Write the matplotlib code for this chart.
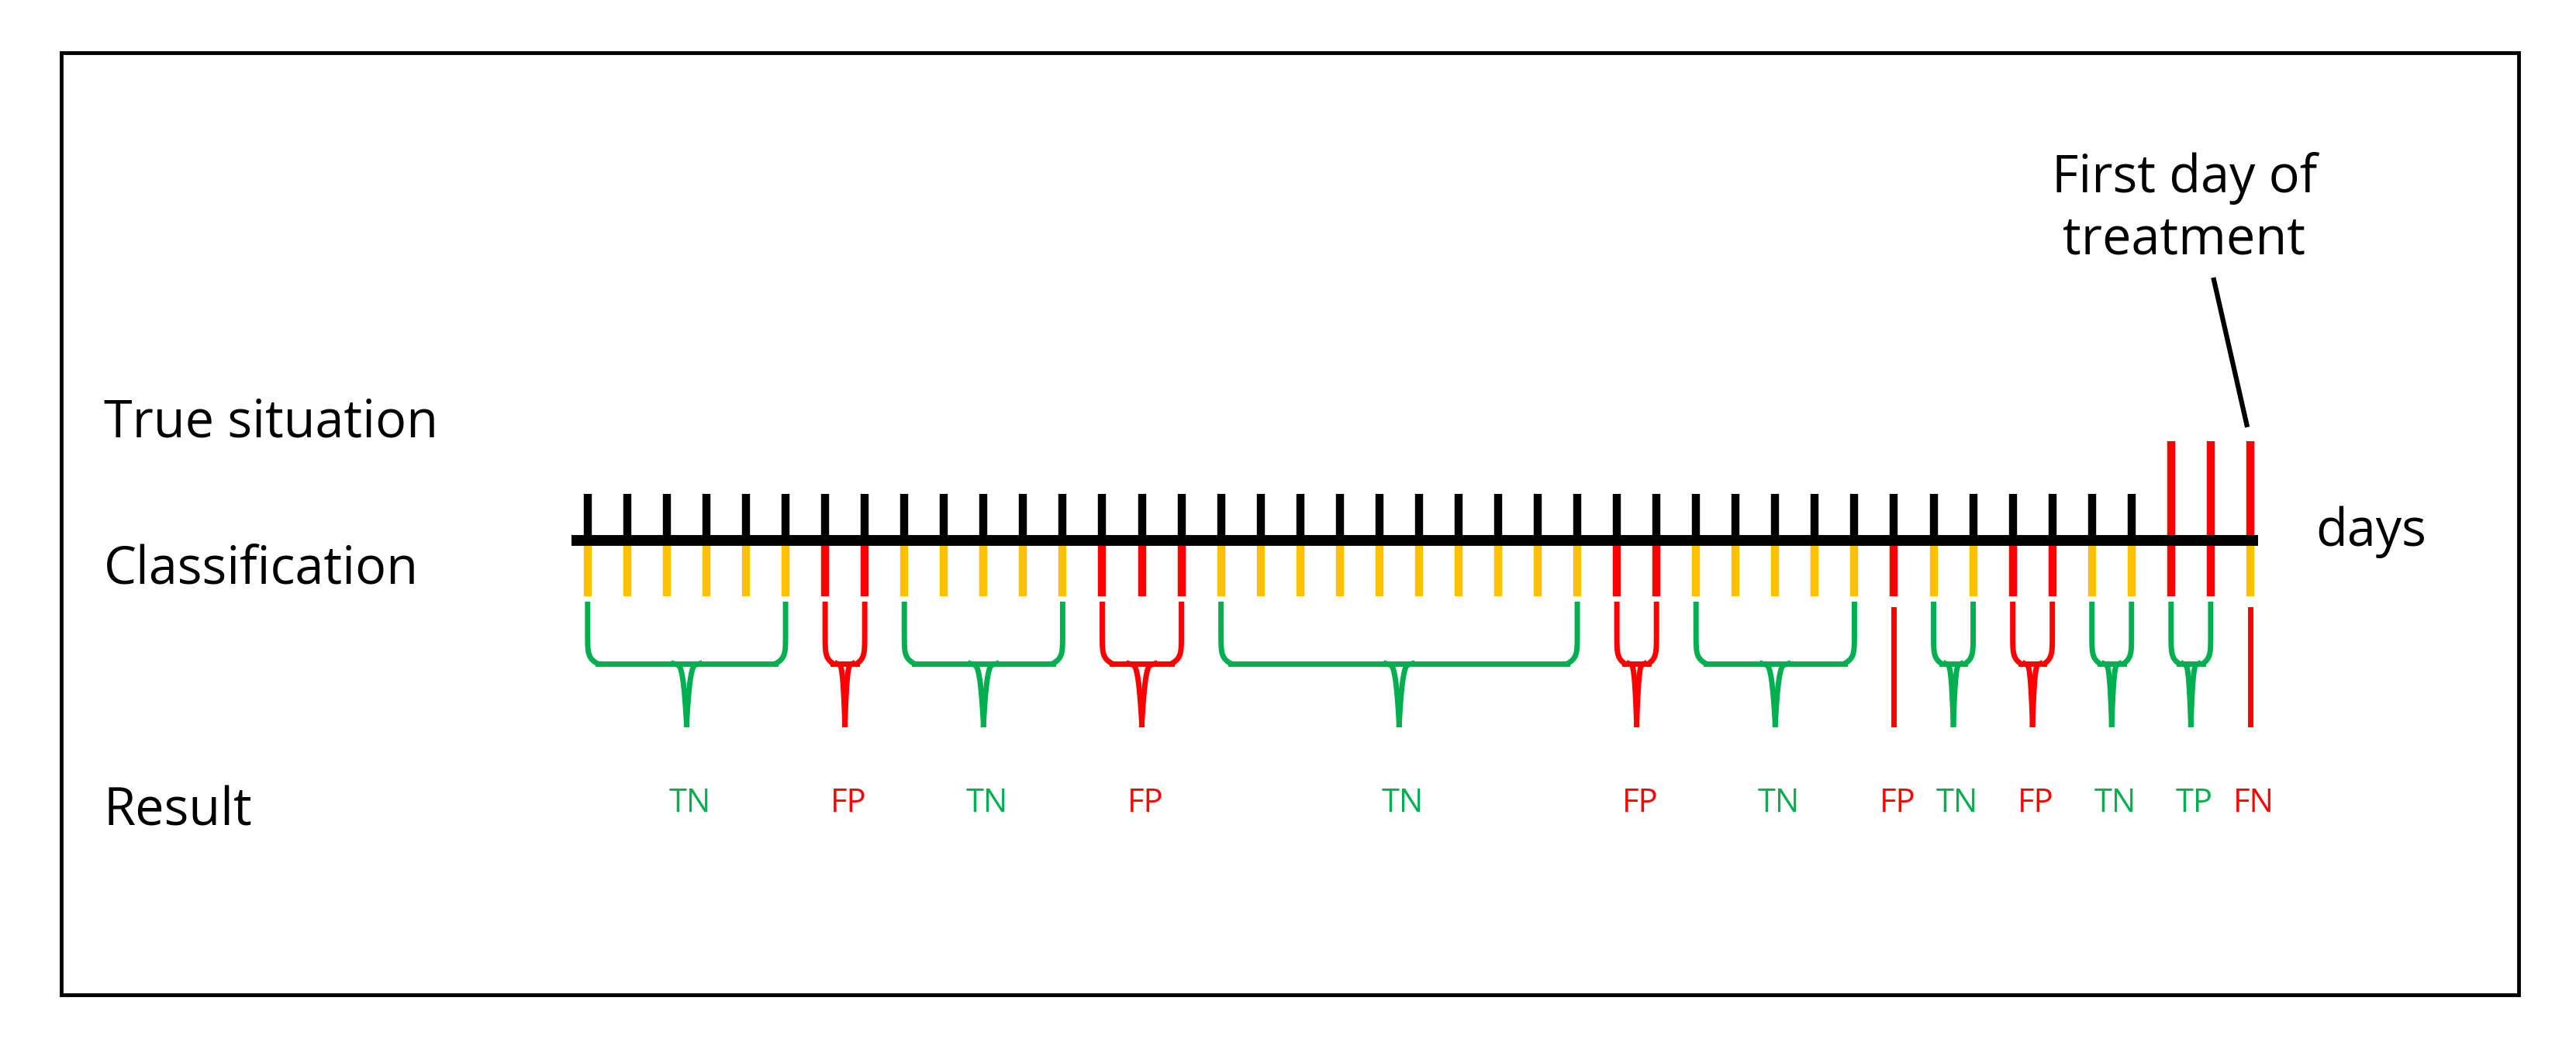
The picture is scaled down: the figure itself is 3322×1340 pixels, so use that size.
import numpy as np
import matplotlib.pyplot as plt
from matplotlib.patches import Rectangle

# ================= DATA =================
# per day: true situation (0 = healthy, 1 = sick), classification (0 = no alarm, 1 = alarm)
truth = [0] * 40 + [1] * 3
classif = ([0] * 6 + [1] * 2 + [0] * 5 + [1] * 3 + [0] * 10 + [1] * 2
           + [0] * 5 + [1] + [0] * 2 + [1] * 2 + [0] * 2 + [1] * 2 + [0])
# result groups: (label, first day, last day)
groups = [("TN", 0, 5), ("FP", 6, 7), ("TN", 8, 12), ("FP", 13, 15),
          ("TN", 16, 25), ("FP", 26, 27), ("TN", 28, 32), ("FP", 33, 33),
          ("TN", 34, 35), ("FP", 36, 37), ("TN", 38, 39), ("TP", 40, 41),
          ("FN", 42, 42)]

RED = "#ff0000"
YELLOW = "#ffc000"
GREEN = "#00b050"
BLACK = "#000000"
label_col = {"TN": GREEN, "TP": GREEN, "FP": RED, "FN": RED}

# ================= LAYOUT (in reference display pixels) =================
X0, STEP = 357, 24.05
AXIS_Y = 328

def dx(i):
    return X0 + i * STEP

plt.rcParams["font.family"] = ["Open Sans", "DejaVu Sans"]
fig = plt.figure(figsize=(33.22, 13.40), dpi=100)
ax = fig.add_axes([0, 0, 1, 1])
ax.set_xlim(0, 1565)
ax.set_ylim(631, 0)
ax.axis("off")

ax.add_patch(Rectangle((37, 32), 1493, 572, fill=False, lw=3.5, ec=BLACK))

# axis line
ax.plot([347, 1372], [AXIS_Y, AXIS_Y], color=BLACK, lw=10, solid_capstyle="butt", zorder=3)

# true situation ticks
for i, t in enumerate(truth):
    if t:
        ax.plot([dx(i), dx(i)], [268, AXIS_Y], color=RED, lw=7.5, solid_capstyle="butt")
    else:
        ax.plot([dx(i), dx(i)], [300, AXIS_Y], color=BLACK, lw=7.5, solid_capstyle="butt")

# classification ticks
for i, c in enumerate(classif):
    col = RED if c else YELLOW
    ax.plot([dx(i), dx(i)], [AXIS_Y, 362], color=col, lw=7.5, solid_capstyle="butt", zorder=2)

# ================= BRACES =================
def brace(x1, x2, col, top=367, mid=403, tip=440):
    xc = (x1 + x2) / 2
    t = np.linspace(0, 1, 40)
    r = min(6, (x2 - x1) / 5)
    lx = x1 + r * t ** 4
    ly = top + (mid - top) * t ** 0.35
    ax.plot(lx, ly, color=col, lw=5)
    ax.plot(x2 - r * t ** 4, ly, color=col, lw=5)
    ax.plot([x1 + r, x2 - r], [mid, mid], color=col, lw=5)
    # central tip
    cw = min(8, (x2 - x1) / 5)
    ax.plot(xc - cw + cw * t ** 0.25, mid + (tip - mid) * t, color=col, lw=5)
    ax.plot(xc + cw - cw * t ** 0.25, mid + (tip - mid) * t, color=col, lw=5)

for lab, a, b in groups:
    col = label_col[lab]
    if a == b:
        ax.plot([dx(a), dx(a)], [370, 440], color=col, lw=5)
    else:
        brace(dx(a), dx(b), col)
    ax.text((dx(a) + dx(b)) / 2 + 2, 488, lab, color=col, fontsize=30,
            ha="center", va="center")

# ================= TEXT =================
ax.text(63, 257, "True situation", fontsize=48, va="center")
ax.text(63, 346, "Classification", fontsize=48, va="center")
ax.text(63, 493, "Result", fontsize=48, va="center")
ax.text(1407, 323, "days", fontsize=48, va="center")
ax.text(1327, 127, "First day of\ntreatment", fontsize=48, ha="center", va="center",
        linespacing=1.25)
ax.plot([1345, 1365], [170, 258], color=BLACK, lw=4.5)

fig.savefig("out.png", dpi=100)
